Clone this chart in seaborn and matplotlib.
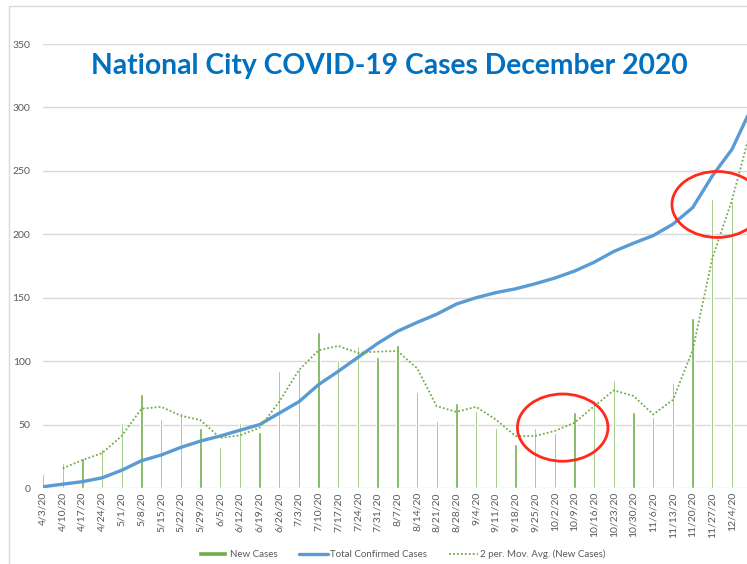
import numpy as np
import pandas as pd
import seaborn as sns
import matplotlib.pyplot as plt
from matplotlib.patches import Ellipse, Rectangle

# weekly dates (the last one is cut off at the right edge of the picture)
dates = ['4/3/20', '4/10/20', '4/17/20', '4/24/20', '5/1/20', '5/8/20', '5/15/20',
         '5/22/20', '5/29/20', '6/5/20', '6/12/20', '6/19/20', '6/26/20', '7/3/20',
         '7/10/20', '7/17/20', '7/24/20', '7/31/20', '8/7/20', '8/14/20', '8/21/20',
         '8/28/20', '9/4/20', '9/11/20', '9/18/20', '9/25/20', '10/2/20', '10/9/20',
         '10/16/20', '10/23/20', '10/30/20', '11/6/20', '11/13/20', '11/20/20',
         '11/27/20', '12/4/20', '12/11/20']
new_cases = [11, 20, 24, 31, 51, 74, 54, 60, 47, 32, 51, 44, 92, 94, 123, 101, 112,
             103, 113, 76, 53, 67, 61, 47, 35, 47, 43, 60, 69, 85, 60, 56, 83, 134,
             228, 226, 344]
total_cases = [1, 3, 5, 8, 14, 21.5, 26, 32, 37, 41, 45.5, 50, 59, 68, 81.5, 92, 103,
               114, 123.5, 130.5, 137, 145, 150, 154, 157, 161, 165.5, 171, 178, 186.5,
               193, 199, 208, 221, 246, 267, 300]

df = pd.DataFrame({'Date': dates, 'New': new_cases, 'Total': total_cases})
df['idx'] = np.arange(len(df))
df['MA'] = df['New'].rolling(2).mean()

green = '#70AD47'
blue = '#5B9BD5'
grey_txt = '#595959'

sns.set_style('white')
plt.rcParams['font.family'] = ['Lato', 'DejaVu Sans']

fig = plt.figure(figsize=(7.47, 5.64), dpi=100)
n = len(df)
step = (732 - 43) / 35
ax = fig.add_axes([43 / 747, 76 / 564, (n - 1) * step / 747, 444 / 564])
ax.set_axisbelow(True)

sns.barplot(data=df, x='Date', y='New', color=green, width=0.12, saturation=1,
            ax=ax, label='New Cases', zorder=2)
sns.lineplot(data=df, x='idx', y='Total', color=blue, linewidth=2.4, ax=ax,
             label='Total Confirmed Cases', zorder=3)
sns.lineplot(data=df.dropna(), x='idx', y='MA', color=green, linewidth=1.3,
             linestyle=(0, (1, 1.2)), ax=ax, label='2 per. Mov. Avg. (New Cases)', zorder=3)

ax.set_xlim(0, n - 1)
ax.set_ylim(0, 350)
ax.set_yticks(range(0, 351, 50))
ax.grid(axis='y', color='#D9D9D9', linewidth=1, zorder=0)
ax.grid(axis='x', visible=False)
for s in ax.spines.values():
    s.set_visible(False)
ax.set_xlabel('')
ax.set_ylabel('')
ax.tick_params(axis='both', length=0, labelsize=7.5, labelcolor=grey_txt)
ax.tick_params(axis='y', pad=9)
ax.tick_params(axis='x', pad=3)
# the last date sits past the right edge, so it gets no label
ax.set_xticks(range(n - 1))
ax.set_xticklabels(dates[:-1], rotation=90, va='top', ha='center')

handles, labels = ax.get_legend_handles_labels()
if ax.legend_:
    ax.legend_.remove()
order = [labels.index(l) for l in ['New Cases', 'Total Confirmed Cases',
                                   '2 per. Mov. Avg. (New Cases)']]
fig.legend([handles[i] for i in order], [labels[i] for i in order], loc='center',
           bbox_to_anchor=(402 / 747, 1 - 554 / 564), ncol=3, frameon=False,
           fontsize=7, labelcolor=grey_txt, handlelength=3.0, handleheight=0.5,
           handletextpad=0.25, columnspacing=2.2)

fig.text(389 / 747, 1 - 66 / 564, 'National City COVID-19 Cases December 2020',
         color='#0070C0', fontsize=20.3, fontweight='bold', ha='center', va='center')

# red circles drawn over the chart
ax.add_patch(Ellipse((26.4, 47.6), 4.6, 53, fill=False, edgecolor='#FF2A1A',
                     linewidth=2, zorder=5, clip_on=False))
ax.add_patch(Ellipse((34.25, 223.5), 4.6, 52, fill=False, edgecolor='#FF2A1A',
                     linewidth=2, zorder=5, clip_on=False))

# outer chart frame
fig.patches.append(Rectangle((9 / 747, -0.1), 1.2, 1 - 6 / 564 + 0.1, fill=False,
                             edgecolor='#D9D9D9', linewidth=1, transform=fig.transFigure))

fig.savefig('out.png', dpi=100)
